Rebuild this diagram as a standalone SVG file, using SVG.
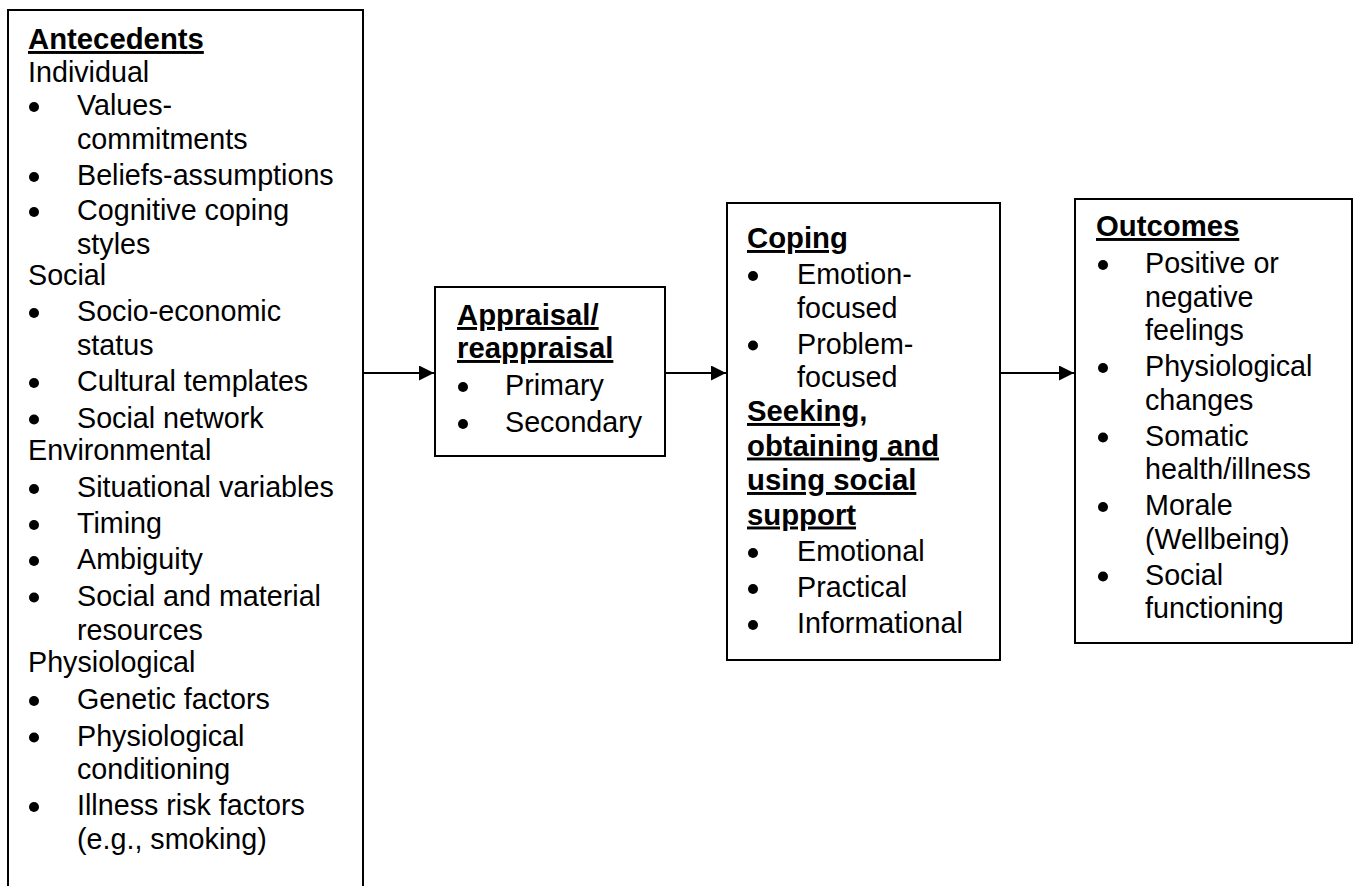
<svg xmlns="http://www.w3.org/2000/svg" width="1354" height="886" viewBox="0 0 1354 886">
  <style>
    .box { fill: #ffffff; stroke: #000000; stroke-width: 2; }
    .t { font-family: "Liberation Sans", Arial, sans-serif; font-size: 28.7px; fill: #000000; }
    .h { font-family: "Liberation Sans", Arial, sans-serif; font-size: 29.3px; font-weight: bold; text-decoration: underline; fill: #000000; }
    .dot { fill: #000000; }
    .link { stroke: #000000; stroke-width: 2; fill: none; marker-end: url(#arrow); }
  </style>
  <defs>
    <marker id="arrow" markerUnits="userSpaceOnUse" markerWidth="16" markerHeight="16" refX="15" refY="7.5" orient="auto">
      <path d="M0,0 L15,7.5 L0,15 Z" fill="#000000"/>
    </marker>
  </defs>
  <rect width="1354" height="886" fill="#ffffff"/>

  <!-- Antecedents -->
  <g id="antecedents">
    <rect class="box" x="8" y="10" width="355" height="890"/>
    <text class="h" x="28" y="49">Antecedents</text>
    <text class="t" x="28" y="82">Individual</text>
    <circle class="dot" cx="34" cy="107" r="5"/><text class="t" x="77" y="115">Values-</text>
    <text class="t" x="77" y="148.5">commitments</text>
    <circle class="dot" cx="34" cy="177" r="5"/><text class="t" x="77" y="185">Beliefs-assumptions</text>
    <circle class="dot" cx="34" cy="212" r="5"/><text class="t" x="77" y="220">Cognitive coping</text>
    <text class="t" x="77" y="253.5">styles</text>
    <text class="t" x="28" y="285">Social</text>
    <circle class="dot" cx="34" cy="313" r="5"/><text class="t" x="77" y="321">Socio-economic</text>
    <text class="t" x="77" y="354.5">status</text>
    <circle class="dot" cx="34" cy="383" r="5"/><text class="t" x="77" y="391">Cultural templates</text>
    <circle class="dot" cx="34" cy="419.5" r="5"/><text class="t" x="77" y="427.5">Social network</text>
    <text class="t" x="28" y="459.5">Environmental</text>
    <circle class="dot" cx="34" cy="489" r="5"/><text class="t" x="77" y="497">Situational variables</text>
    <circle class="dot" cx="34" cy="525" r="5"/><text class="t" x="77" y="533">Timing</text>
    <circle class="dot" cx="34" cy="561" r="5"/><text class="t" x="77" y="569">Ambiguity</text>
    <circle class="dot" cx="34" cy="597.5" r="5"/><text class="t" x="77" y="605.5">Social and material</text>
    <text class="t" x="77" y="639.5">resources</text>
    <text class="t" x="28" y="672">Physiological</text>
    <circle class="dot" cx="34" cy="701" r="5"/><text class="t" x="77" y="709">Genetic factors</text>
    <circle class="dot" cx="34" cy="737.5" r="5"/><text class="t" x="77" y="745.5">Physiological</text>
    <text class="t" x="77" y="779">conditioning</text>
    <circle class="dot" cx="34" cy="807" r="5"/><text class="t" x="77" y="815">Illness risk factors</text>
    <text class="t" x="77" y="849">(e.g., smoking)</text>
  </g>

  <!-- Appraisal -->
  <g id="appraisal">
    <rect class="box" x="435" y="287" width="230" height="169"/>
    <text class="h" x="457" y="325">Appraisal/</text>
    <text class="h" x="457" y="358">reappraisal</text>
    <circle class="dot" cx="463" cy="387" r="5"/><text class="t" x="505" y="395">Primary</text>
    <circle class="dot" cx="463" cy="424" r="5"/><text class="t" x="505" y="432">Secondary</text>
  </g>

  <!-- Coping -->
  <g id="coping">
    <rect class="box" x="727" y="203" width="273" height="457"/>
    <text class="h" x="747" y="248">Coping</text>
    <circle class="dot" cx="753" cy="276" r="5"/><text class="t" x="797" y="284">Emotion-</text>
    <text class="t" x="797" y="317.5">focused</text>
    <circle class="dot" cx="753" cy="345.5" r="5"/><text class="t" x="797" y="353.5">Problem-</text>
    <text class="t" x="797" y="387">focused</text>
    <text class="h" x="747" y="421">Seeking,</text>
    <text class="h" x="747" y="455.5">obtaining and</text>
    <text class="h" x="747" y="490">using social</text>
    <text class="h" x="747" y="524.5">support</text>
    <circle class="dot" cx="753" cy="553" r="5"/><text class="t" x="797" y="561">Emotional</text>
    <circle class="dot" cx="753" cy="589" r="5"/><text class="t" x="797" y="597">Practical</text>
    <circle class="dot" cx="753" cy="625" r="5"/><text class="t" x="797" y="633">Informational</text>
  </g>

  <!-- Outcomes -->
  <g id="outcomes">
    <rect class="box" x="1075" y="199" width="277" height="444"/>
    <text class="h" x="1096" y="236">Outcomes</text>
    <circle class="dot" cx="1103" cy="265" r="5"/><text class="t" x="1145" y="273">Positive or</text>
    <text class="t" x="1145" y="306.5">negative</text>
    <text class="t" x="1145" y="340">feelings</text>
    <circle class="dot" cx="1103" cy="368" r="5"/><text class="t" x="1145" y="376">Physiological</text>
    <text class="t" x="1145" y="409.5">changes</text>
    <circle class="dot" cx="1103" cy="437.5" r="5"/><text class="t" x="1145" y="445.5">Somatic</text>
    <text class="t" x="1145" y="479">health/illness</text>
    <circle class="dot" cx="1103" cy="507" r="5"/><text class="t" x="1145" y="515">Morale</text>
    <text class="t" x="1145" y="548.5">(Wellbeing)</text>
    <circle class="dot" cx="1103" cy="576.5" r="5"/><text class="t" x="1145" y="584.5">Social</text>
    <text class="t" x="1145" y="618">functioning</text>
  </g>

  <!-- Connectors -->
  <g id="connectors">
    <line class="link" x1="362" y1="373" x2="434" y2="373"/>
    <line class="link" x1="665" y1="373" x2="726" y2="373"/>
    <line class="link" x1="1000" y1="373" x2="1074" y2="373"/>
  </g>
</svg>
